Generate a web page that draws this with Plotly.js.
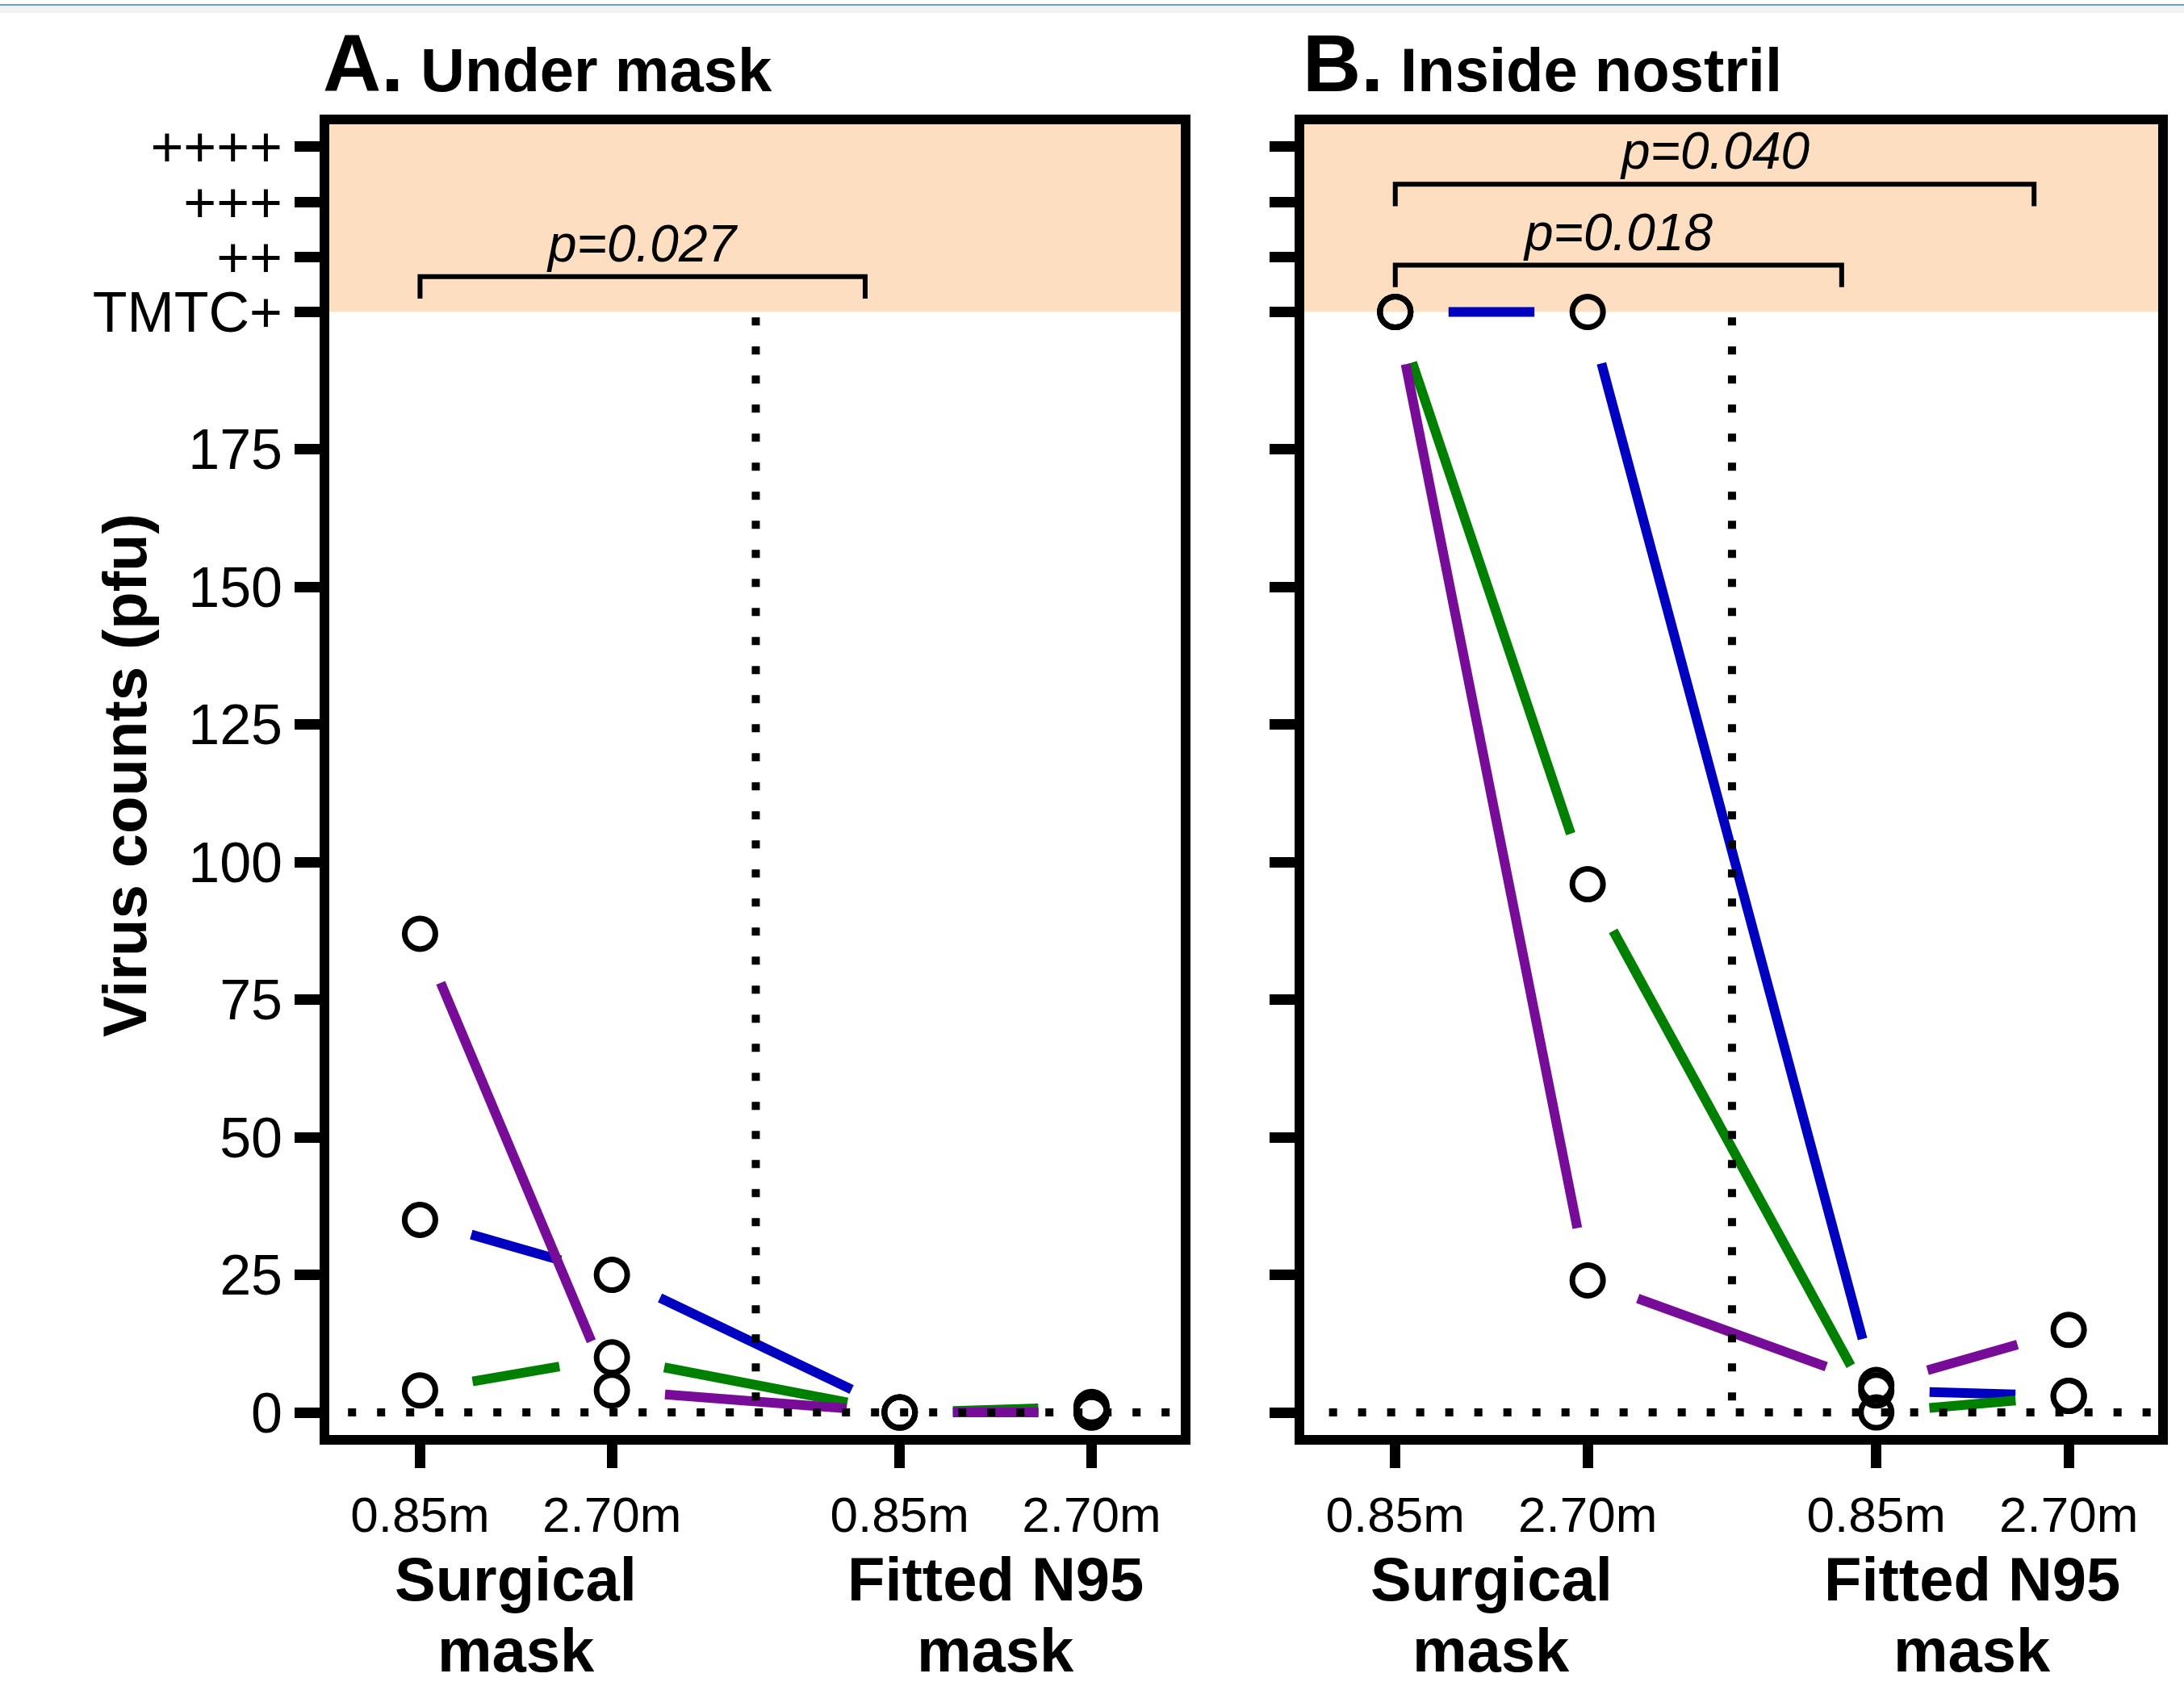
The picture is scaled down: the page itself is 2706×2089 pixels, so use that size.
<!DOCTYPE html>
<html>
<head>
<meta charset="utf-8">
<script src="https://cdn.plot.ly/plotly-3.0.1.min.js"></script>
<style>
html,body{margin:0;padding:0;background:#ffffff;}
#chart{width:2706px;height:2089px;}
</style>
</head>
<body>
<div id="chart"></div>
<script>
// ---------------- data ----------------
const distanceLabels = ["0.85m", "2.70m", "0.85m", "2.70m"];
const xPositions = [1, 2, 3.5, 4.5];
const maskGroupLines = [["Surgical", "mask"], ["Fitted N95", "mask"]];
const maskGroupCenters = [1.5, 4.0];
const yTickVals = [0, 25, 50, 75, 100, 125, 150, 175, 200, 210, 220, 230];
const yTickText = ["0", "25", "50", "75", "100", "125", "150", "175", "TMTC+", "++", "+++", "++++"];
const tmtcLevel = 200;
const subjectColors = ["#0000C0", "#008000", "#760C98"];

// Panel A – Under mask (virus counts, pfu)
const underMaskBlue   = [35, 25, 0, 0];
const underMaskGreen  = [4, 10, 0, 1];
const underMaskPurple = [87, 4, 0, 0];

// Panel B – Inside nostril (virus counts, pfu; 200 = TMTC+)
const nostrilBlue   = [200, 200, 4, 3];
const nostrilGreen  = [200, 96, 0, 3];
const nostrilPurple = [200, 24, 5, 15];

// significance brackets
const bracketPanel = ["A", "B", "B"];
const bracketX0 = [1, 1, 1];
const bracketX1 = [3.32, 3.32, 4.32];
const bracketY = [206.4, 208.5, 223.2];
const bracketDrop = 4;
const bracketLabels = ["p=0.027", "p=0.018", "p=0.040"];

const panelTitles = [["A.", "Under mask"], ["B.", "Inside nostril"]];
const yAxisTitle = "Virus counts (pfu)";

// ---------------- geometry / style ----------------
const FONT = "Liberation Sans, Arial, Helvetica, sans-serif";
const W = 2706, H = 2089;
const M = {l: 408, r: 32, t: 154, b: 311};
const plotW = W - M.l - M.r, plotH = H - M.t - M.b;
const domA = [0, 1055 / plotW];
const domB = [1208 / plotW, 1];
const xRange = [0.527, 4.965];
const yRange = [-4.1, 234.1];
const GAP = 66; // px gap between line ends and markers

const sxA = (domA[1] - domA[0]) * plotW / (xRange[1] - xRange[0]);
const sxB = (domB[1] - domB[0]) * plotW / (xRange[1] - xRange[0]);
const sy = plotH / (yRange[1] - yRange[0]);

function gapped(xs, ys, sx) {
  const ox = [], oy = [];
  for (let i = 0; i < xs.length - 1; i++) {
    const dx = xs[i + 1] - xs[i], dy = ys[i + 1] - ys[i];
    const L = Math.hypot(dx * sx, dy * sy);
    if (L <= 2 * GAP) continue;
    const f = GAP / L;
    ox.push(xs[i] + dx * f, xs[i + 1] - dx * f, null);
    oy.push(ys[i] + dy * f, ys[i + 1] - dy * f, null);
  }
  return {x: ox, y: oy};
}

const panels = [
  {name: "Under mask", xa: "x", ya: "y", sx: sxA, series: [underMaskBlue, underMaskGreen, underMaskPurple]},
  {name: "Inside nostril", xa: "x2", ya: "y2", sx: sxB, series: [nostrilBlue, nostrilGreen, nostrilPurple]}
];

const traces = [];
panels.forEach(p => {
  p.series.forEach((vals, k) => {
    const seg = gapped(xPositions, vals, p.sx);
    traces.push({
      type: "scatter", mode: "lines", x: seg.x, y: seg.y,
      xaxis: p.xa, yaxis: p.ya, connectgaps: false,
      line: {color: subjectColors[k], width: 12},
      hoverinfo: "skip", showlegend: false
    });
  });
  const mx = [], my = [];
  p.series.forEach(vals => { vals.forEach((v, i) => { mx.push(xPositions[i]); my.push(v); }); });
  traces.push({
    type: "scatter", mode: "markers", x: mx, y: my, xaxis: p.xa, yaxis: p.ya,
    marker: {symbol: "circle-open", size: 38, color: "#000000", line: {width: 7, color: "#000000"}},
    name: p.name, showlegend: false, cliponaxis: false
  });
});

const xCommon = {
  range: xRange, tickmode: "array", tickvals: xPositions, ticktext: distanceLabels,
  ticks: "outside", ticklen: 29, tickwidth: 13, tickcolor: "#000",
  showline: true, linewidth: 12, linecolor: "#000", mirror: true,
  showgrid: false, zeroline: false, fixedrange: true,
  tickfont: {family: FONT, size: 62, color: "#000"}, ticklabelstandoff: 5
};
const yCommon = {
  range: yRange, tickmode: "array", tickvals: yTickVals, ticktext: yTickText,
  ticks: "outside", ticklen: 31, tickwidth: 13, tickcolor: "#000",
  showline: true, linewidth: 12, linecolor: "#000", mirror: true,
  showgrid: false, zeroline: false, fixedrange: true,
  tickfont: {family: FONT, size: 70, color: "#000"}, ticklabelstandoff: 1
};

const shapes = [];
const annotations = [];
const midGap = (xPositions[1] + xPositions[2]) / 2;
const groupLineY = [1 - (1957 - M.t) / plotH, 1 - (2044 - M.t) / plotH];
[["x", "y"], ["x2", "y2"]].forEach(([xa, ya], idx) => {
  shapes.push({type: "rect", xref: xa + " domain", yref: ya, x0: 0, x1: 1, y0: tmtcLevel, y1: yRange[1],
               fillcolor: "#FEDEC0", line: {width: 0}, layer: "below"});
  shapes.push({type: "line", xref: xa + " domain", yref: ya, x0: idx === 0 ? 0.022 : 0.029, x1: 1, y0: 0, y1: 0,
               line: {color: "#000", width: 10, dash: "10px,26px"}});
  shapes.push({type: "line", xref: xa, yref: ya, x0: midGap, x1: midGap, y0: tmtcLevel - 1, y1: -1.5,
               line: {color: "#000", width: 10, dash: "10px,26px"}});
  // group labels
  maskGroupLines.forEach((lines, g) => {
    lines.forEach((t, li) => {
      annotations.push({xref: xa, yref: "paper", x: maskGroupCenters[g], y: groupLineY[li],
        xanchor: "center", yanchor: "middle", showarrow: false,
        text: "<b>" + t + "</b>", font: {family: FONT, size: 76, color: "#000"}});
    });
  });
});

bracketPanel.forEach((pn, i) => {
  const xa = pn === "A" ? "x" : "x2", ya = pn === "A" ? "y" : "y2";
  const x0 = bracketX0[i], x1 = bracketX1[i], y = bracketY[i], yb = y - bracketDrop;
  shapes.push({type: "path", xref: xa, yref: ya,
    path: `M ${x0},${yb} L ${x0},${y} L ${x1},${y} L ${x1},${yb}`,
    line: {color: "#000", width: 6}});
  annotations.push({xref: xa, yref: ya, x: (x0 + x1) / 2, y: y, xanchor: "center", yanchor: "bottom",
    yshift: 3, showarrow: false, text: "<i>" + bracketLabels[i] + "</i>",
    font: {family: FONT, size: 64, color: "#000"}});
});

// panel titles
const titleX = [(398 - M.l) / plotW, (1612 - M.l) / plotW];
panelTitles.forEach((t, i) => {
  annotations.push({xref: "paper", yref: "paper", x: titleX[i], y: 1 + (M.t - 136) / plotH,
    xanchor: "left", yanchor: "bottom", showarrow: false,
    text: `<b><span style="font-size:100px">${t[0]}</span> ${t[1]}</b>`,
    font: {family: FONT, size: 76, color: "#000"}});
});

// y axis title
annotations.push({xref: "paper", yref: "paper", x: (155 - M.l) / plotW, y: 1 - (961 - M.t) / plotH,
  xanchor: "center", yanchor: "middle", textangle: -90, showarrow: false,
  text: "<b>" + yAxisTitle + "</b>", font: {family: FONT, size: 76, color: "#000"}});

// thin window border line at top of the picture
shapes.push({type: "rect", xref: "paper", yref: "paper", x0: -M.l / plotW, x1: 1 + M.r / plotW,
  y0: 1 + (M.t - 16) / plotH, y1: 1 + (M.t - 7) / plotH, fillcolor: "rgba(0,0,0,0.05)", line: {width: 0}});
shapes.push({type: "line", xref: "paper", yref: "paper", x0: -M.l / plotW, x1: 1 + M.r / plotW,
  y0: 1 + (M.t - 6) / plotH, y1: 1 + (M.t - 6) / plotH, line: {color: "#6E9BD3", width: 2}});

const layout = {
  width: W, height: H, margin: M,
  paper_bgcolor: "#ffffff", plot_bgcolor: "#ffffff",
  showlegend: false,
  font: {family: FONT, color: "#000"},
  xaxis: Object.assign({}, xCommon, {domain: domA, anchor: "y"}),
  yaxis: Object.assign({}, yCommon, {domain: [0, 1], anchor: "x"}),
  xaxis2: Object.assign({}, xCommon, {domain: domB, anchor: "y2"}),
  yaxis2: Object.assign({}, yCommon, {domain: [0, 1], anchor: "x2", showticklabels: false}),
  shapes: shapes,
  annotations: annotations
};

Plotly.newPlot("chart", traces, layout, {staticPlot: true, displayModeBar: false});
</script>
</body>
</html>
